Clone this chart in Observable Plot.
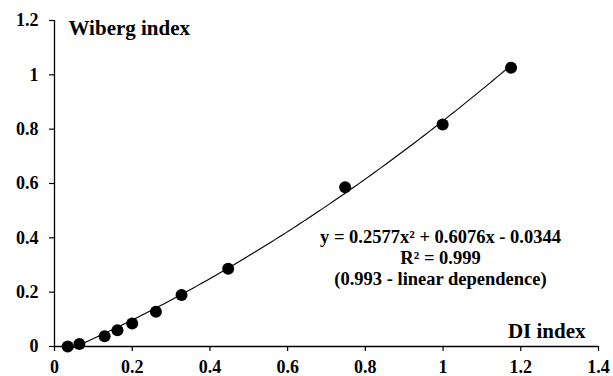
<!DOCTYPE html>
<html>
<head>
<meta charset="utf-8">
<script src="https://cdn.jsdelivr.net/npm/d3@7"></script>
<script src="https://cdn.jsdelivr.net/npm/@observablehq/plot@0.6"></script>
<style>
  body { margin: 0; background: #fff; }
  #chart svg text { font-family: 'Liberation Serif', 'Times New Roman', serif !important; font-weight: bold !important; }
  #chart svg [aria-label$="tick label"] { font-size: 18px !important; }
  #chart svg [aria-label$="tick label"] text { font-size: 18px !important; }
</style>
</head>
<body>
<div id="chart"></div>
<script>
// ---- data ----
const diIndex     = [0.034, 0.064, 0.129, 0.162, 0.200, 0.261, 0.327, 0.447, 0.748, 0.999, 1.175];
const wibergIndex = [0.000, 0.009, 0.038, 0.060, 0.085, 0.128, 0.190, 0.286, 0.586, 0.817, 1.026];
// quadratic trendline shown on the chart: y = a x^2 + b x + c
const fitCoefficients = [0.2577, 0.6076, -0.0344];

const xTicks = [0, 0.2, 0.4, 0.6, 0.8, 1, 1.2, 1.4];
const xTickLabels = ["0", "0.2", "0.4", "0.6", "0.8", "1", "1.2", "1.4"];
const yTicks = [0, 0.2, 0.4, 0.6, 0.8, 1, 1.2];
const yTickLabels = ["0", "0.2", "0.4", "0.6", "0.8", "1", "1.2"];

const xTitle = "DI index";
const yTitle = "Wiberg index";
const equationLines = ["y = 0.2577x² + 0.6076x - 0.0344", "R² = 0.999", "(0.993 - linear dependence)"];

// ---- derived tables ----
const points = diIndex.map((x, i) => ({x, y: wibergIndex[i]}));
const [a, b, c] = fitCoefficients;
const [x0, x1] = d3.extent(diIndex);
const nSamples = 120;
const trend = d3.range(nSamples + 1).map(i => {
  const x = x0 + (x1 - x0) * i / nSamples;
  return {x, y: a * x * x + b * x + c};
});

const font = "'Liberation Serif', 'Times New Roman', serif";

const chart = Plot.plot({
  width: 613,
  height: 376,
  marginLeft: 54,
  marginRight: 15,
  marginTop: 20,
  marginBottom: 30,
  style: {fontFamily: font, fontSize: "18px", fontWeight: "bold", color: "#000", background: "#fff"},
  x: {domain: [0, 1.4]},
  y: {domain: [0, 1.2]},
  marks: [
    Plot.axisX(xTicks, {tickSize: 5, tickPadding: 9, tickFormat: (d, i) => xTickLabels[i], fontSize: 18, fontWeight: "bold", label: null, strokeWidth: 1.2}),
    Plot.axisY(yTicks, {tickSize: 5, tickPadding: 11, tickFormat: (d, i) => yTickLabels[i], fontSize: 18, fontWeight: "bold", label: null, strokeWidth: 1.2}),
    Plot.ruleX([0], {stroke: "#000", strokeWidth: 1.3}),
    Plot.ruleY([0], {stroke: "#000", strokeWidth: 1.3}),
    Plot.line(trend, {x: "x", y: "y", stroke: "#000", strokeWidth: 1.1}),
    Plot.dot(points, {x: "x", y: "y", r: 6, fill: "#000", stroke: "none"}),
    Plot.text([yTitle], {frameAnchor: "top-left", textAnchor: "start", lineAnchor: "bottom", dx: 14, dy: 14, fontSize: 21, fontWeight: "bold"}),
    Plot.text([xTitle], {frameAnchor: "bottom-right", textAnchor: "end", lineAnchor: "bottom", dx: -13, dy: -9, fontSize: 21, fontWeight: "bold"}),
    Plot.text([equationLines.join("\n")], {frameAnchor: "top-left", textAnchor: "middle", lineAnchor: "bottom", dx: 386, dy: 264, fontSize: 18.5, lineHeight: 1.11, fontWeight: "bold"})
  ]
});
document.getElementById("chart").appendChild(chart);
</script>
</body>
</html>
